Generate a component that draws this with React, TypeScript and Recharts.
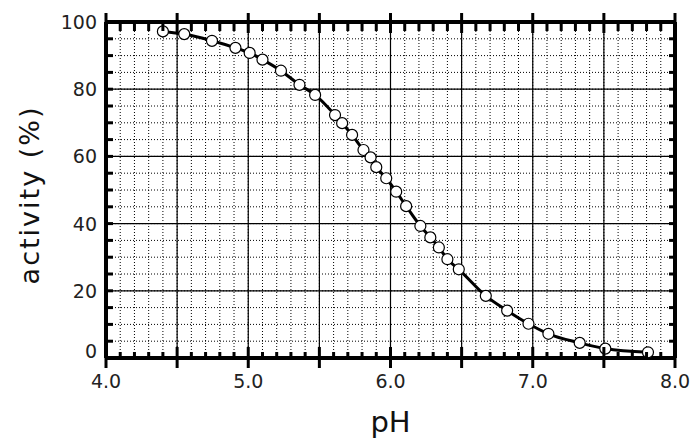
import { LineChart, Line, XAxis, YAxis, CartesianGrid, ReferenceLine, Label } from "recharts";

// pH profile of enzyme activity
const phValues = [
  4.4, 4.55, 4.745, 4.91, 5.01, 5.1, 5.23, 5.36, 5.47, 5.61, 5.66, 5.73, 5.81, 5.86, 5.9,
  5.97, 6.04, 6.11, 6.21, 6.28, 6.34, 6.4, 6.48, 6.67, 6.82, 6.97, 7.11, 7.33, 7.51, 7.81,
];
const activityValues = [
  97.2, 96.4, 94.4, 92.3, 90.8, 88.8, 85.5, 81.3, 78.3, 72.3, 69.9, 66.4, 61.9, 59.7, 56.8,
  53.5, 49.5, 45.2, 39.3, 35.9, 32.9, 29.4, 26.4, 18.5, 14.1, 10.2, 7.2, 4.5, 2.8, 1.7,
];

const xTickLabels = [4, 5, 6, 7, 8];
const yTickLabels = [0, 20, 40, 60, 80, 100];
const xMajorLines = [4.5, 5, 5.5, 6, 6.5, 7, 7.5];
const yMajorLines = [20, 40, 60, 80];

// minor ticks / dotted grid every 0.1 pH and every 5 %
const xMinorTicks = Array.from({ length: 41 }, (_, i) => Math.round((4 + i * 0.1) * 10) / 10);
const yMinorTicks = Array.from({ length: 21 }, (_, i) => i * 5);

const data = phValues.map((ph, i) => ({ ph, activity: activityValues[i] }));

const FONT = "'DejaVu Sans', sans-serif";

const BottomTick = (props: any) => {
  const { x, y, payload } = props;
  const v = Math.round(payload.value * 10);
  const major = v % 5 === 0;
  return (
    <g>
      {major ? (
        <line x1={x} x2={x} y1={y - 11} y2={y + 10} stroke="#000" strokeWidth={3} />
      ) : (
        <line x1={x} x2={x} y1={y} y2={y - 6} stroke="#000" strokeWidth={3} />
      )}
      {xTickLabels.includes(payload.value) && (
        <text x={x} y={y + 30} textAnchor="middle" fontSize={19} fontFamily={FONT} fill="#222">
          {payload.value.toFixed(1)}
        </text>
      )}
    </g>
  );
};

const TopTick = (props: any) => {
  const { x, y, payload } = props;
  const v = Math.round(payload.value * 10);
  const major = v % 5 === 0;
  return major ? (
    <line x1={x} x2={x} y1={y - 9} y2={y + 11} stroke="#000" strokeWidth={3} />
  ) : (
    <line x1={x} x2={x} y1={y} y2={y + 9} stroke="#000" strokeWidth={3} />
  );
};

const LeftTick = (props: any) => {
  const { x, y, payload } = props;
  const shift = payload.value === 0 ? -7 : 0;
  return (
    <g>
      <line x1={x} x2={x + 7} y1={y} y2={y} stroke="#000" strokeWidth={3} />
      {yTickLabels.includes(payload.value) && (
        <text
          x={x - 9}
          y={y + shift}
          textAnchor="end"
          dominantBaseline="central"
          fontSize={19}
          fontFamily={FONT}
          fill="#222"
        >
          {payload.value}
        </text>
      )}
    </g>
  );
};

const RightTick = (props: any) => {
  const { x, y } = props;
  return <line x1={x} x2={x - 6} y1={y} y2={y} stroke="#000" strokeWidth={3} />;
};

export default function App() {
  return (
    <div style={{ position: "absolute", left: 0, top: 0, background: "#fff" }}>
      <LineChart width={695} height={443} data={data} margin={{ top: 0, right: 0, bottom: 0, left: 0 }}>
        <CartesianGrid stroke="#000" strokeDasharray="1 2" strokeWidth={1} />
        {xMajorLines.map((v) => (
          <ReferenceLine key={"x" + v} x={v} stroke="#000" strokeWidth={1.2} />
        ))}
        {yMajorLines.map((v) => (
          <ReferenceLine key={"y" + v} y={v} stroke="#000" strokeWidth={1.2} />
        ))}
        <XAxis
          dataKey="ph"
          type="number"
          domain={[4, 8]}
          allowDataOverflow
          ticks={xMinorTicks}
          interval={0}
          height={85}
          tickSize={0}
          tickMargin={0}
          tickLine={false}
          tick={<BottomTick />}
          axisLine={{ stroke: "#000", strokeWidth: 4 }}
        >
          <Label
            content={(p: any) => {
              const vb = p.viewBox;
              return (
                <text
                  x={vb.x + vb.width / 2}
                  y={vb.y + 74}
                  textAnchor="middle"
                  fontSize={29}
                  fontFamily={FONT}
                  fill="#111"
                >
                  pH
                </text>
              );
            }}
          />
        </XAxis>
        <XAxis
          xAxisId="top"
          dataKey="ph"
          orientation="top"
          type="number"
          domain={[4, 8]}
          allowDataOverflow
          ticks={xMinorTicks}
          interval={0}
          height={22}
          tickSize={0}
          tickMargin={0}
          tickLine={false}
          tick={<TopTick />}
          axisLine={{ stroke: "#000", strokeWidth: 4 }}
        />
        <YAxis
          type="number"
          domain={[0, 100]}
          allowDataOverflow
          ticks={yMinorTicks}
          interval={0}
          width={106}
          tickSize={0}
          tickMargin={0}
          tickLine={false}
          tick={<LeftTick />}
          axisLine={{ stroke: "#000", strokeWidth: 4 }}
        >
          <Label
            content={(p: any) => {
              const vb = p.viewBox;
              const cx = vb.x + 29;
              const cy = vb.y + vb.height / 2 + 5;
              return (
                <text
                  x={cx}
                  y={cy}
                  transform={`rotate(-90 ${cx} ${cy})`}
                  textAnchor="middle"
                  dominantBaseline="central"
                  fontSize={27}
                  letterSpacing={2}
                  fontFamily={FONT}
                  fill="#111"
                >
                  activity (%)
                </text>
              );
            }}
          />
        </YAxis>
        <YAxis
          yAxisId="right"
          dataKey="activity"
          orientation="right"
          type="number"
          domain={[0, 100]}
          allowDataOverflow
          ticks={yMinorTicks}
          interval={0}
          width={20}
          tickSize={0}
          tickMargin={0}
          tickLine={false}
          tick={<RightTick />}
          axisLine={{ stroke: "#000", strokeWidth: 4 }}
        />
        <Line
          dataKey="activity"
          type="monotone"
          stroke="#000"
          strokeWidth={3}
          dot={{ r: 5.5, fill: "#fff", stroke: "#000", strokeWidth: 1.2 }}
          activeDot={false}
          isAnimationActive={false}
        />
      </LineChart>
    </div>
  );
}
